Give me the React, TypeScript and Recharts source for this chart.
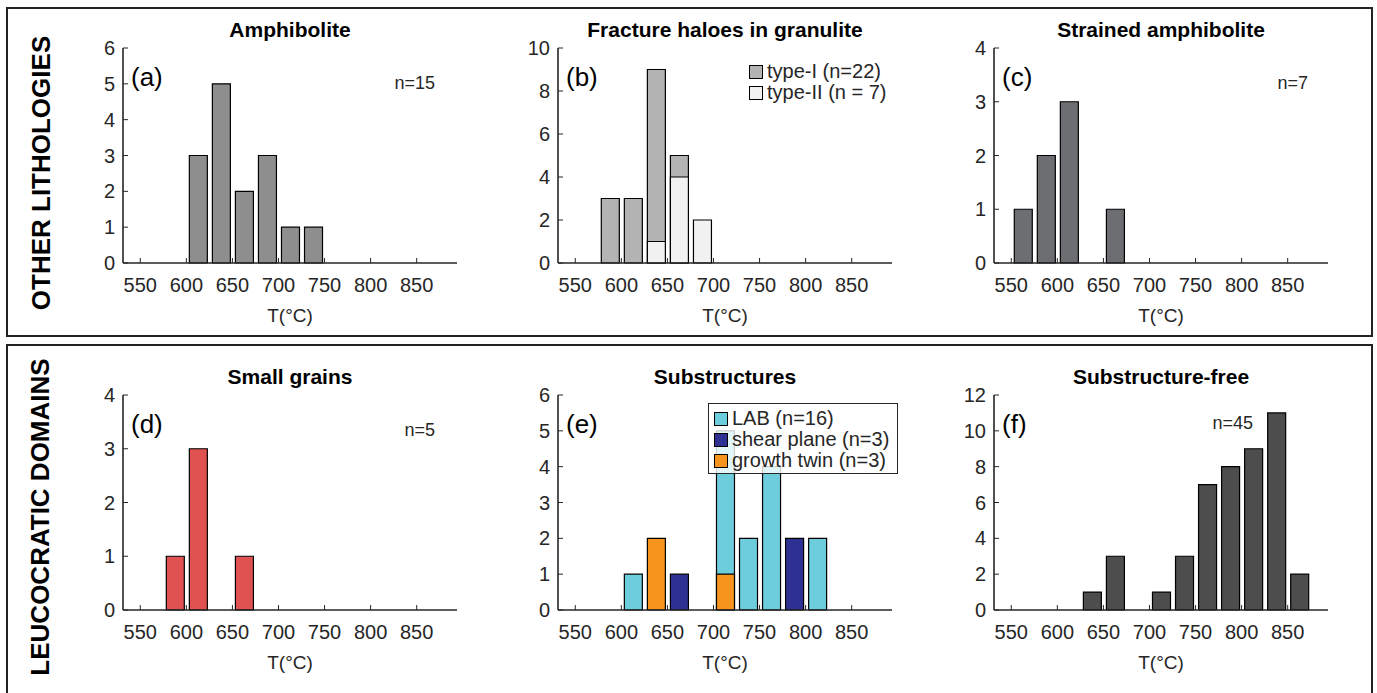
import { BarChart, Bar, XAxis, YAxis, Legend, Label } from "recharts";

// histogram bins (25 °C wide), shared by every panel
const binCenters = [562.5, 587.5, 612.5, 637.5, 662.5, 687.5, 712.5, 737.5, 762.5, 787.5, 812.5, 837.5, 862.5];
const tempTicks = [550, 600, 650, 700, 750, 800, 850];

const amphibolite = [0, 0, 3, 5, 2, 3, 1, 1, 0, 0, 0, 0, 0];
const fractureTypeI = [0, 3, 3, 9, 5, 0, 0, 0, 0, 0, 0, 0, 0];
const fractureTypeII = [0, 0, 0, 1, 4, 2, 0, 0, 0, 0, 0, 0, 0];
const strainedAmphibolite = [1, 2, 3, 0, 1, 0, 0, 0, 0, 0, 0, 0, 0];
const smallGrains = [0, 1, 3, 0, 1, 0, 0, 0, 0, 0, 0, 0, 0];
const labCounts = [0, 0, 1, 0, 0, 0, 5, 2, 4, 0, 2, 0, 0];
const shearPlane = [0, 0, 0, 0, 1, 0, 0, 0, 0, 2, 0, 0, 0];
const growthTwin = [0, 0, 0, 2, 0, 0, 1, 0, 0, 0, 0, 0, 0];
const substructureFree = [0, 0, 0, 1, 3, 0, 1, 3, 7, 8, 9, 11, 2];

const FONT = '"Liberation Sans", Arial, Helvetica, sans-serif';
const INK = "#262626";
const BAR_SIZE = 18;
const PLOT_W = 334;
const PLOT_H = 215;
const PAD_L = 60;
const PAD_T = 10;

type Series = { key: string; name: string; values: number[]; color: string };

type PanelProps = {
  plotLeft: number;
  plotTop: number;
  title: string;
  tag: string;
  nText?: string;
  nRight?: number;
  nTop?: number;
  yMax: number;
  yTicks: number[];
  series: Series[];
  legend?: "plain" | "boxed";
};

// mirrored axes only need the tick marks, not the labels
const noLabel = () => <g />;

function LegendBox({ series, boxed }: { series: Series[]; boxed: boolean }) {
  return (
    <div
      style={{
        fontFamily: FONT,
        fontSize: 20,
        color: INK,
        background: boxed ? "rgba(255,255,255,0.8)" : "transparent",
        border: boxed ? `1px solid ${INK}` : "none",
        padding: boxed ? "4px 8px 2px 5px" : 0,
        lineHeight: "21px",
        whiteSpace: "nowrap",
      }}
    >
      {series.map((s) => (
        <div key={s.key} style={{ display: "flex", alignItems: "center" }}>
          <span
            style={{
              display: "inline-block",
              width: 12,
              height: 12,
              background: s.color,
              border: "1px solid #000",
              marginRight: 4,
            }}
          />
          {s.name}
        </div>
      ))}
    </div>
  );
}

function Panel(p: PanelProps) {
  const data = binCenters.map((t, i) => {
    const row: Record<string, number> = { t };
    p.series.forEach((s) => (row[s.key] = s.values[i]));
    return row;
  });
  const overlap = p.series.length > 1;
  return (
    <div style={{ position: "absolute", left: p.plotLeft - PAD_L, top: p.plotTop - PAD_T }}>
      <div
        style={{
          position: "absolute",
          left: PAD_L - 20,
          width: PLOT_W + 40,
          top: PAD_T - 30,
          height: 24,
          lineHeight: "24px",
          textAlign: "center",
          fontFamily: FONT,
          fontWeight: "bold",
          fontSize: 21,
          color: "#000",
          whiteSpace: "nowrap",
        }}
      >
        {p.title}
      </div>
      <BarChart
        width={PAD_L + PLOT_W + 12}
        height={PAD_T + PLOT_H + 70}
        data={data}
        margin={{ top: PAD_T, right: 12, bottom: 0, left: 0 }}
        barGap={overlap ? -BAR_SIZE : 4}
      >
        <XAxis
          dataKey="t"
          type="number"
          domain={[531.25, 893.75]}
          ticks={tempTicks}
          interval={0}
          height={70}
          tickSize={-5}
          tickMargin={20}
          stroke={INK}
          axisLine={{ stroke: INK, strokeWidth: 1.6 }}
          tick={{ fill: INK, fontSize: 20, fontFamily: FONT }}
        >
          <Label
            value="T(°C)"
            position="insideTop"
            offset={46}
            style={{ fill: INK, fontSize: 19, fontFamily: FONT }}
          />
        </XAxis>
        <XAxis
          xAxisId="top"
          orientation="top"
          dataKey="t"
          type="number"
          domain={[531.25, 893.75]}
          ticks={tempTicks}
          interval={0}
          height={0}
          tickSize={-5}
          tick={noLabel}
          stroke={INK}
          axisLine={{ stroke: INK, strokeWidth: 1.6 }}
        />
        <YAxis
          type="number"
          domain={[0, p.yMax]}
          ticks={p.yTicks}
          interval={0}
          width={PAD_L}
          tickSize={-5}
          tickMargin={13}
          stroke={INK}
          axisLine={{ stroke: INK, strokeWidth: 1.6 }}
          tick={{ fill: INK, fontSize: 20, fontFamily: FONT }}
        />
        <YAxis
          yAxisId="right"
          orientation="right"
          type="number"
          domain={[0, p.yMax]}
          ticks={p.yTicks}
          interval={0}
          width={0}
          tickSize={-5}
          tick={noLabel}
          stroke={INK}
          axisLine={{ stroke: INK, strokeWidth: 1.6 }}
        />
        {p.series.map((s) => (
          <Bar
            key={s.key}
            dataKey={s.key}
            name={s.name}
            fill={s.color}
            stroke="#000"
            strokeWidth={1.2}
            barSize={BAR_SIZE}
            isAnimationActive={false}
          />
        ))}
        {p.legend && (
          <Legend
            layout="horizontal"
            verticalAlign="middle"
            align="center"
            wrapperStyle={
              p.legend === "boxed"
                ? { left: PAD_L + 150, top: PAD_T + 8, width: "auto", height: "auto" }
                : { left: PAD_L + 191, top: PAD_T + 13, width: "auto", height: "auto" }
            }
            content={() => <LegendBox series={p.series} boxed={p.legend === "boxed"} />}
          />
        )}
      </BarChart>
      <div
        style={{
          position: "absolute",
          left: PAD_L + 8,
          top: PAD_T + 14,
          fontFamily: FONT,
          fontSize: 26,
          lineHeight: "30px",
          color: "#000",
        }}
      >
        {p.tag}
      </div>
      {p.nText && (
        <div
          style={{
            position: "absolute",
            right: 12 + (p.nRight ?? 22),
            top: PAD_T + (p.nTop ?? 25),
            fontFamily: FONT,
            fontSize: 18,
            lineHeight: "20px",
            color: INK,
          }}
        >
          {p.nText}
        </div>
      )}
    </div>
  );
}

const sideLabel = (text: string, cx: number, cy: number) => (
  <div
    style={{
      position: "absolute",
      left: cx,
      top: cy,
      transform: "translate(-50%, -50%) rotate(-90deg)",
      fontFamily: FONT,
      fontWeight: "bold",
      fontSize: 26,
      whiteSpace: "nowrap",
      color: "#000",
    }}
  >
    {text}
  </div>
);

export default function App() {
  const topRow = 48;
  const bottomRow = 395;
  return (
    <div
      style={{
        position: "absolute",
        left: 0,
        top: 0,
        width: 1377,
        height: 693,
        overflow: "hidden",
        background: "#fff",
      }}
    >
      <div style={{ position: "absolute", left: 6, top: 7, width: 1363, height: 326, border: "2px solid #222" }} />
      <div style={{ position: "absolute", left: 6, top: 344, width: 1363, height: 400, border: "2px solid #222" }} />
      {sideLabel("OTHER LITHOLOGIES", 41, 173)}
      {sideLabel("LEUCOCRATIC DOMAINS", 40, 517)}

      <Panel
        plotLeft={123}
        plotTop={topRow}
        title="Amphibolite"
        tag="(a)"
        nText="n=15"
        yMax={6}
        yTicks={[0, 1, 2, 3, 4, 5, 6]}
        series={[{ key: "amph", name: "Amphibolite", values: amphibolite, color: "#8e8e8e" }]}
      />
      <Panel
        plotLeft={558}
        plotTop={topRow}
        title="Fracture haloes in granulite"
        tag="(b)"
        yMax={10}
        yTicks={[0, 2, 4, 6, 8, 10]}
        legend="plain"
        series={[
          { key: "t1", name: "type-I (n=22)", values: fractureTypeI, color: "#b3b3b3" },
          { key: "t2", name: "type-II (n = 7)", values: fractureTypeII, color: "#f1f1f1" },
        ]}
      />
      <Panel
        plotLeft={994}
        plotTop={topRow}
        title="Strained amphibolite"
        tag="(c)"
        nText="n=7"
        nRight={20}
        yMax={4}
        yTicks={[0, 1, 2, 3, 4]}
        series={[{ key: "str", name: "Strained amphibolite", values: strainedAmphibolite, color: "#6d6e71" }]}
      />
      <Panel
        plotLeft={123}
        plotTop={bottomRow}
        title="Small grains"
        tag="(d)"
        nText="n=5"
        yMax={4}
        yTicks={[0, 1, 2, 3, 4]}
        series={[{ key: "sg", name: "Small grains", values: smallGrains, color: "#e05252" }]}
      />
      <Panel
        plotLeft={558}
        plotTop={bottomRow}
        title="Substructures"
        tag="(e)"
        yMax={6}
        yTicks={[0, 1, 2, 3, 4, 5, 6]}
        legend="boxed"
        series={[
          { key: "lab", name: "LAB (n=16)", values: labCounts, color: "#6ecddd" },
          { key: "shear", name: "shear plane (n=3)", values: shearPlane, color: "#2e3192" },
          { key: "twin", name: "growth twin (n=3)", values: growthTwin, color: "#f7941d" },
        ]}
      />
      <Panel
        plotLeft={994}
        plotTop={bottomRow}
        title="Substructure-free"
        tag="(f)"
        nText="n=45"
        nRight={75}
        nTop={18}
        yMax={12}
        yTicks={[0, 2, 4, 6, 8, 10, 12]}
        series={[{ key: "free", name: "Substructure-free", values: substructureFree, color: "#4d4d4d" }]}
      />
    </div>
  );
}
